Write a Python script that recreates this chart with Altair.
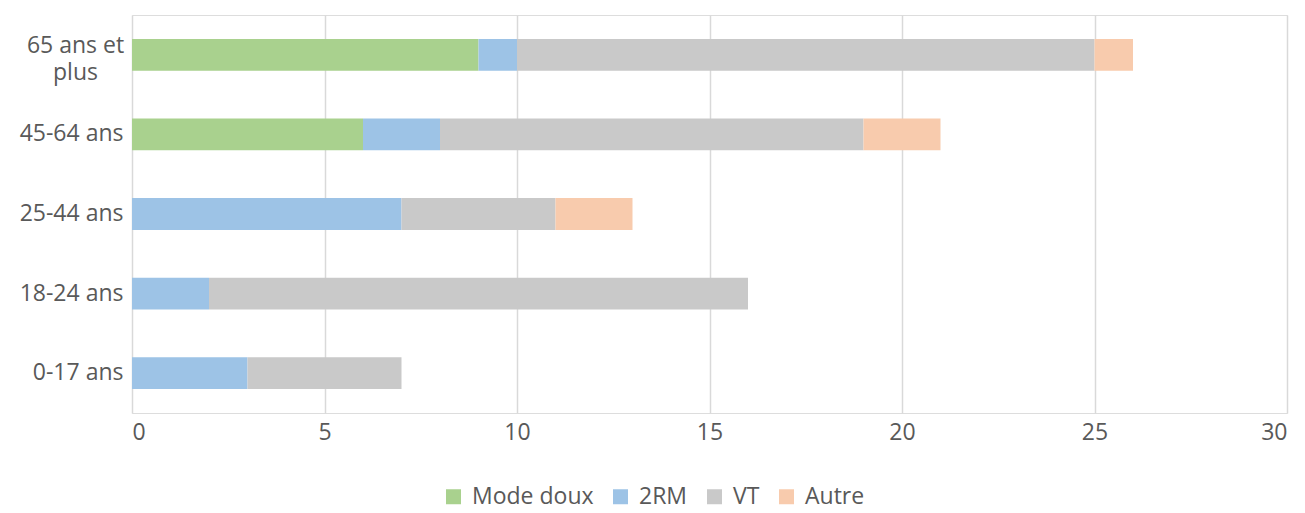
import altair as alt
import pandas as pd

categories = ["65 ans et plus", "45-64 ans", "25-44 ans", "18-24 ans", "0-17 ans"]
series = ["Mode doux", "2RM", "VT", "Autre"]
mode_doux = [9, 6, 0, 0, 0]
deux_rm = [1, 2, 7, 2, 3]
vt = [15, 11, 4, 14, 4]
autre = [1, 2, 2, 0, 0]
colors = ["#A9D18E", "#9DC3E6", "#C9C9C9", "#F8CBAD"]

rows = []
for i, c in enumerate(categories):
    for j, (s, vals) in enumerate(zip(series, [mode_doux, deux_rm, vt, autre])):
        rows.append({"cat": c, "serie": s, "val": vals[i], "ord": j})
df = pd.DataFrame(rows)

FONT = "Open Sans"
TXT = "#595959"
FS = 23
TEST = "datum.value == '65 ans et plus'"

chart = alt.Chart(df).mark_bar().encode(
    y=alt.Y("cat:N", sort=categories,
            scale=alt.Scale(paddingInner=0.6, paddingOuter=0.3),
            axis=alt.Axis(title=None, ticks=False, domain=False, labelFontSize=FS,
                          labelColor=TXT, labelFont=FONT,
                          labelAlign={"condition": {"test": TEST, "value": "center"}, "value": "right"},
                          labelPadding={"condition": {"test": TEST, "value": 57}, "value": 9},
                          labelOffset={"condition": {"test": TEST, "value": -9}, "value": 0},
                          labelLineHeight=27, labelLimit=200,
                          labelExpr="datum.label == '65 ans et plus' ? ['65 ans et', 'plus'] : datum.label")),
    x=alt.X("val:Q", stack="zero",
            scale=alt.Scale(domain=[0, 30], nice=False),
            axis=alt.Axis(title=None, values=[0, 5, 10, 15, 20, 25, 30], ticks=False, domain=False,
                          grid=True, gridColor="#D9D9D9", gridWidth=1.5,
                          labelFontSize=FS, labelColor=TXT, labelFont=FONT, labelPadding=8)),
    color=alt.Color("serie:N", sort=series,
                    scale=alt.Scale(domain=series, range=colors),
                    legend=alt.Legend(title=None, orient="none", direction="horizontal",
                                      legendX=310, legendY=470, symbolType="square",
                                      symbolSize=225, symbolStrokeWidth=0, labelFontSize=FS,
                                      labelColor=TXT, labelFont=FONT, columnPadding=15,
                                      labelOffset=7, labelLimit=200)),
    order=alt.Order("ord:Q"),
).properties(
    width=1155, height=398,
    autosize=alt.AutoSizeParams(type="none"),
    padding={"left": 124, "top": 7, "right": 10, "bottom": 92},
).configure_view(stroke=None).configure(background="white")

chart.save("out.html", embed_options={"renderer": "svg", "actions": False})
